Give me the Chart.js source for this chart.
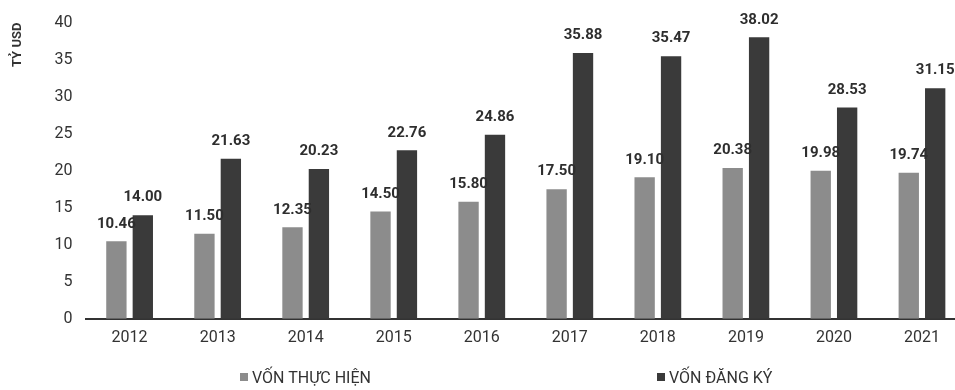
<!DOCTYPE html>
<html>
<head>
<meta charset="utf-8">
<script src="https://cdn.jsdelivr.net/npm/chart.js@4.4.1/dist/chart.umd.min.js"></script>
<style>
  html, body { margin: 0; padding: 0; background: #ffffff; }
  #wrap { position: relative; width: 955px; height: 390px; overflow: hidden; }
  .leg { position: absolute; top: 369px; font: 16px Roboto, sans-serif; color: #333333; white-space: nowrap; line-height: 18px; }
  .leg i { display: inline-block; width: 8px; height: 8px; margin-right: 4px; vertical-align: 2px; }
</style>
</head>
<body>
<div id="wrap">
  <canvas id="c" width="966" height="390"></canvas>
  <div class="leg" id="leg0" style="left:240px"></div>
  <div class="leg" id="leg1" style="left:657px"></div>
</div>
<script>
// Vốn FDI theo năm (tỷ USD)
const years = ['2012', '2013', '2014', '2015', '2016', '2017', '2018', '2019', '2020', '2021'];
const vonThucHien = [10.46, 11.50, 12.35, 14.50, 15.80, 17.50, 19.10, 20.38, 19.98, 19.74];
const vonDangKy = [14.00, 21.63, 20.23, 22.76, 24.86, 35.88, 35.47, 38.02, 28.53, 31.15];
const yTicks = [0, 5, 10, 15, 20, 25, 30, 35, 40];
const seriesNames = ['VỐN THỰC HIỆN', 'VỐN ĐĂNG KÝ'];
const seriesColors = ['#8c8c8c', '#3a3a3a'];

// Writes each bar's value just above its top
const valueLabels = {
  id: 'valueLabels',
  afterDatasetsDraw(chart) {
    const ctx = chart.ctx;
    ctx.save();
    ctx.font = 'bold 15px Roboto';
    ctx.fillStyle = '#2e2e2e';
    ctx.textAlign = 'center';
    ctx.textBaseline = 'bottom';
    chart.data.datasets.forEach((ds, i) => {
      chart.getDatasetMeta(i).data.forEach((bar, j) => {
        ctx.fillText(ds.data[j].toFixed(2), bar.x, bar.y - 10);
      });
    });
    ctx.restore();
  }
};

const chart = new Chart(document.getElementById('c'), {
  type: 'bar',
  data: {
    labels: years,
    datasets: seriesNames.map((name, i) => ({
      label: name,
      data: i === 0 ? vonThucHien : vonDangKy,
      backgroundColor: seriesColors[i],
      categoryPercentage: 0.6,
      barPercentage: 0.77
    }))
  },
  options: {
    responsive: false,
    animation: false,
    layout: { padding: { top: 16, right: 0, left: 10, bottom: 32 } },
    plugins: {
      tooltip: { enabled: false },
      legend: { display: false }
    },
    scales: {
      x: {
        grid: { display: false, drawTicks: false },
        border: { display: true, color: '#333333', width: 2 },
        ticks: { font: { family: 'Roboto', size: 16 }, color: '#333333', padding: 10 }
      },
      y: {
        min: 0, max: 40,
        afterBuildTicks(axis) { axis.ticks = yTicks.map(v => ({ value: v })); },
        grid: { display: false, drawTicks: false },
        border: { display: false },
        ticks: { font: { family: 'Roboto', size: 16 }, color: '#333333', padding: 13, autoSkip: false },
        title: { display: true, text: 'TỶ USD', align: 'end',
                 font: { family: 'Roboto', size: 13, weight: 'bold' }, color: '#333333',
                 padding: { top: 0, bottom: 16 } }
      }
    }
  },
  plugins: [valueLabels]
});

// Legend entries built from the chart's datasets
chart.data.datasets.forEach((ds, i) => {
  const el = document.getElementById('leg' + i);
  const sw = document.createElement('i');
  sw.style.background = ds.backgroundColor;
  el.appendChild(sw);
  el.appendChild(document.createTextNode(ds.label));
});
</script>
</body>
</html>
